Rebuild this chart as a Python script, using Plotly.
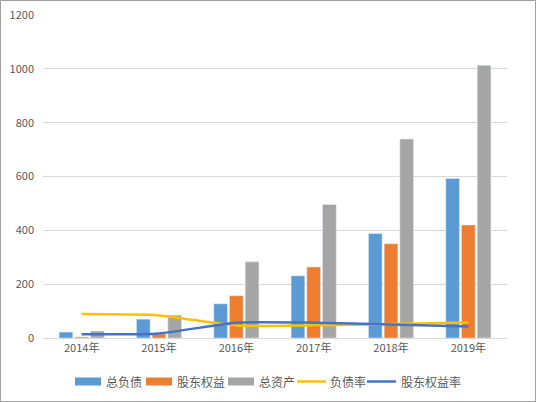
import plotly.graph_objects as go

years = ["2014年", "2015年", "2016年", "2017年", "2018年", "2019年"]
total_debt = [22, 70, 127, 231, 388, 593]
equity = [4, 15, 157, 264, 350, 420]
total_assets = [26, 85, 283, 496, 739, 1013]
debt_ratio = [89, 84, 46, 47, 52, 58]
equity_ratio = [14, 17, 57, 57, 50, 43]

series_names = ["总负债", "股东权益", "总资产", "负债率", "股东权益率"]
series_colors = ["#5b9bd5", "#ed7d31", "#a5a5a5", "#ffc000", "#4472c4"]

font = "Noto Sans CJK SC, Microsoft YaHei, sans-serif"
fig = go.Figure()
for nm, vals, col in zip(series_names[:3], [total_debt, equity, total_assets], series_colors[:3]):
    fig.add_bar(x=years, y=vals, name=nm, marker_color=col)
for nm, vals, col in zip(series_names[3:], [debt_ratio, equity_ratio], series_colors[3:]):
    fig.add_scatter(x=years, y=vals, name=nm, mode="lines",
                    line=dict(color=col, width=2.5, shape="spline", smoothing=0.6))

# plot area geometry in pixels
L, R, T, B = 43, 29, 15, 64
W, H = 536, 402
pw, ph = W - L - R, H - T - B
def px(x):
    return (x - L) / pw
def py(y):
    return (H - B - y) / ph

# manual legend (Excel-style wide swatches)
legend_y = 381.5
swatch_x = [75, 146, 228, 297, 367]
text_x = [104, 175, 257, 328, 399]
shapes = [dict(type="rect", xref="paper", yref="paper",
               x0=px(0.5), x1=px(535.5), y0=py(401.5), y1=py(0.5),
               line=dict(color="#a0a0a0", width=1))]
annotations = []
for i, (nm, col) in enumerate(zip(series_names, series_colors)):
    if i < 3:
        shapes.append(dict(type="rect", xref="paper", yref="paper",
                           x0=px(swatch_x[i]), x1=px(swatch_x[i] + 26),
                           y0=py(legend_y + 4), y1=py(legend_y - 4),
                           fillcolor=col, line=dict(width=0)))
    else:
        shapes.append(dict(type="line", xref="paper", yref="paper",
                           x0=px(swatch_x[i]), x1=px(swatch_x[i] + 29),
                           y0=py(legend_y), y1=py(legend_y),
                           line=dict(color=col, width=2.5)))
    annotations.append(dict(text=nm, xref="paper", yref="paper", x=px(text_x[i]),
                            y=py(legend_y), xanchor="left", yanchor="middle",
                            showarrow=False, font=dict(size=12, color="#595959")))

fig.update_layout(
    width=W, height=H,
    margin=dict(l=L, r=R, t=T, b=B, autoexpand=False),
    paper_bgcolor="white", plot_bgcolor="white",
    barmode="group", bargap=0.39, bargroupgap=0.13,
    font=dict(family=font, size=11, color="#595959"),
    showlegend=False,
    xaxis=dict(showgrid=False, showline=True, linecolor="#d9d9d9", ticks="",
               tickfont=dict(size=11)),
    yaxis=dict(range=[0, 1200], dtick=200, showgrid=True, gridcolor="#d9d9d9",
               zeroline=False, showline=False, tickfont=dict(size=11), ticklabelstandoff=8),
    shapes=shapes,
    annotations=annotations,
)
fig.write_html("out.html")
